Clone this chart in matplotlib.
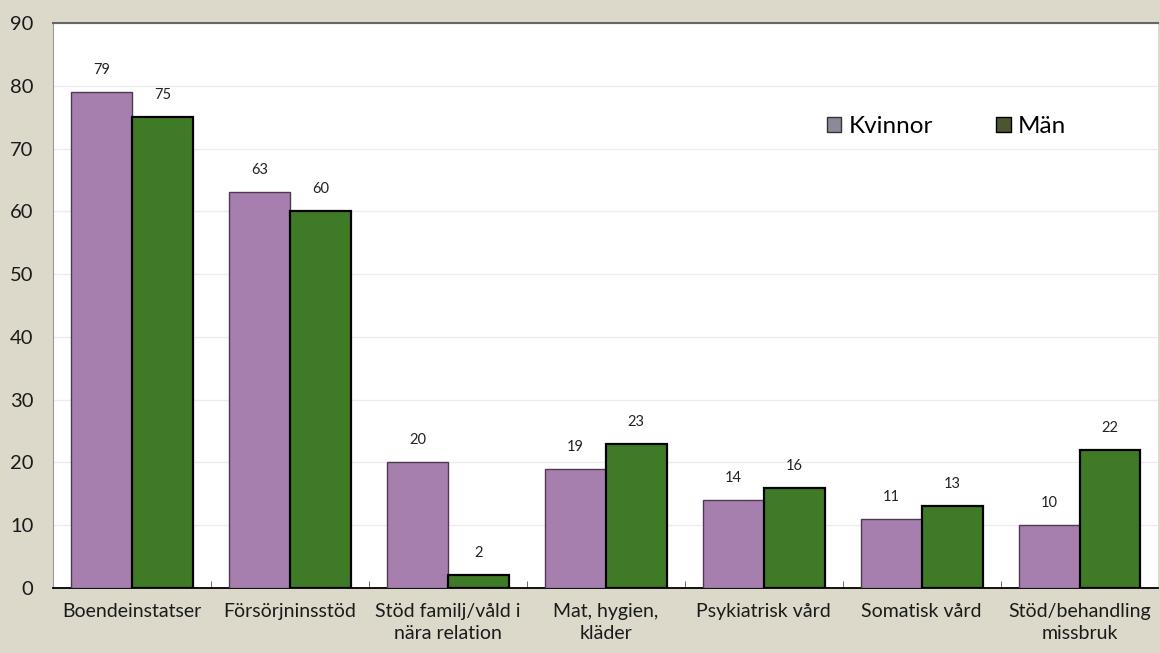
import matplotlib
matplotlib.use('Agg')
import matplotlib.pyplot as plt
from matplotlib.patches import Patch
import numpy as np

categories = ['Boendeinstatser', 'Försörjninsstöd', 'Stöd familj/våld i\nnära relation',
              'Mat, hygien,\nkläder', 'Psykiatrisk vård', 'Somatisk vård',
              'Stöd/behandling\nmissbruk']
kvinnor = [79, 63, 20, 19, 14, 11, 10]
man = [75, 60, 2, 23, 16, 13, 22]
yticks = list(range(0, 91, 10))

plt.rcParams['font.family'] = ['Lato', 'DejaVu Sans']

fig = plt.figure(figsize=(11.6, 6.53), dpi=100)
fig.patch.set_facecolor('#dcd9cb')
ax = fig.add_axes([0.0457, 0.0995, 0.953, 0.8653])
ax.set_facecolor('white')

x = np.arange(len(categories))
w = 0.386
b1 = ax.bar(x - w / 2, kvinnor, w, color='#a77fae', edgecolor='#4d3a52', linewidth=1.0, zorder=3)
b2 = ax.bar(x + w / 2, man, w, color='#3f7b27', edgecolor='black', linewidth=1.6, zorder=3)

for rect, v in zip(list(b1) + list(b2), kvinnor + man):
    ax.text(rect.get_x() + rect.get_width() / 2, v + 2.4, str(v),
            ha='center', va='bottom', fontsize=10.5, color='#222222')

ax.set_xlim(-0.5, len(categories) - 0.5)
ax.set_ylim(0, 90)
ax.set_yticks(yticks)
ax.yaxis.grid(True, color='#ececec', linewidth=1, zorder=0)
ax.set_xticks(x)
ax.set_xticklabels(categories, fontsize=14, color='#1a1a1a', linespacing=1.35)
ax.set_xticks(np.arange(0.5, len(categories) - 1, 1), minor=True)
ax.tick_params(axis='x', which='major', length=0, pad=11)
ax.tick_params(axis='x', which='minor', length=5, direction='in', color='#555555')
ax.tick_params(axis='y', length=0, pad=14, labelsize=14.5, labelcolor='#1a1a1a')

ax.spines['bottom'].set_color('black')
ax.spines['bottom'].set_linewidth(1.3)
ax.spines['top'].set_color('#666666')
ax.spines['top'].set_linewidth(1.5)
ax.spines['left'].set_color('#999999')
ax.spines['right'].set_visible(False)

handles = [Patch(facecolor='#8b8a98', edgecolor='#333333', label='Kvinnor'),
           Patch(facecolor='#4b5530', edgecolor='black', label='Män')]
ax.legend(handles=handles, ncol=2, frameon=False, fontsize=17.5,
          loc='center left', bbox_to_anchor=(0.68, 0.817),
          handlelength=0.6, handleheight=0.6, handletextpad=0.3, columnspacing=2.6)

fig.savefig('out.png', dpi=100, facecolor=fig.get_facecolor())
